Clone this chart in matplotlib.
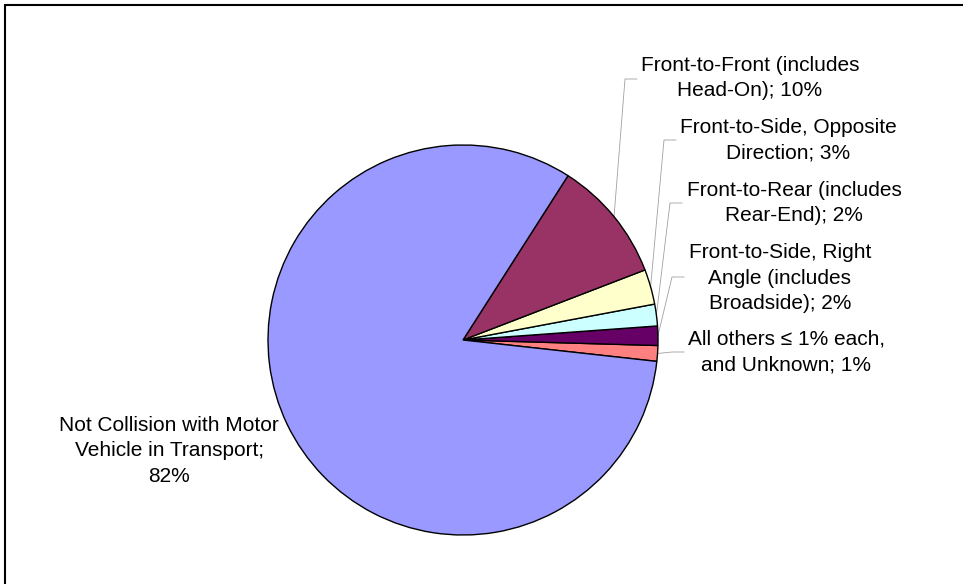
import matplotlib
matplotlib.use("Agg")
import matplotlib.pyplot as plt
from matplotlib.patches import Rectangle
import numpy as np

# Crash share by manner of collision
labels = [
    "All others \u2264 1% each,\nand Unknown; 1%",
    "Front-to-Side, Right\nAngle (includes\nBroadside); 2%",
    "Front-to-Rear (includes\nRear-End); 2%",
    "Front-to-Side, Opposite\nDirection; 3%",
    "Front-to-Front (includes\nHead-On); 10%",
    "Not Collision with Motor\nVehicle in Transport;\n82%",
]
shares = [1.3, 1.6, 1.8, 2.9, 10.1, 82.3]
colors = ["#FF8080", "#660066", "#CCFFFF", "#FFFFCC", "#993366", "#9999FF"]

W, H = 963, 584
fig = plt.figure(figsize=(W / 100, H / 100), dpi=100)
ax = fig.add_axes([0, 0, 1, 1])

plt.rcParams['font.family'] = ['Liberation Sans', 'DejaVu Sans']

center = (463, H - 340)
radius = 195
wedges, _ = ax.pie(shares, colors=colors, startangle=-6.3, counterclock=True,
                   center=center, radius=radius, frame=True,
                   wedgeprops=dict(edgecolor="black", linewidth=1.0))
ax.set_xlim(0, W)
ax.set_ylim(0, H)
ax.set_aspect("equal")
ax.axis("off")

# label text centres and leader-line elbows (pixel coords, y from top)
text_pos = [(786, 352), (780, 278), (794, 203), (788, 140), (750, 78), (169, 451)]
elbows = [(684, 352), (684, 277), (682, 203), (676, 140), (637, 79), None]

for w, lab, tp, el in zip(wedges, labels, text_pos, elbows):
    ax.text(tp[0], H - tp[1], lab, ha="center", va="center", fontsize=15,
            linespacing=1.42, color="black")
    if el is None:
        continue
    mid = np.deg2rad((w.theta1 + w.theta2) / 2)
    ex = center[0] + radius * np.cos(mid)
    ey = center[1] + radius * np.sin(mid)
    ax.plot([el[0], el[0] - 12, ex], [H - el[1], H - el[1], ey],
            color="#a0a0a0", linewidth=0.6, zorder=0.5)

# outer frame (only left/top edges visible)
ax.add_patch(Rectangle((5, -20), W + 20, H - 5 + 20, fill=False,
                       edgecolor="black", linewidth=1.5, clip_on=False))

fig.savefig("out.png", dpi=100)
